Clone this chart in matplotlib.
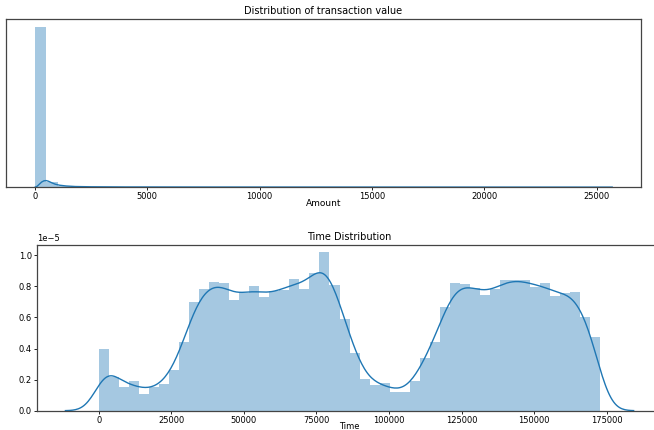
import math
import numpy as np
import matplotlib.pyplot as plt

# --- Amount (top panel) ---
amount_max = 25691
amount_hist = [1.83e-3, 5.5e-5, 1.4e-5, 5e-6, 2.5e-6, 1.5e-6, 1e-6, 8e-7]
# kde line
amount_kde_x = [0, 100, 200, 300, 400, 500, 600, 750, 900, 1100, 1400, 1800, 2500, 4000, 8000, 25691]
amount_kde_y = [0, 1.2e-5, 3.6e-5, 6.0e-5, 7.4e-5, 7.7e-5, 7.0e-5, 5.2e-5, 3.6e-5, 2.4e-5, 1.5e-5, 9e-6, 6e-6, 4e-6, 3e-6, 2e-6]

# --- Time (bottom panel), density in units of 1e-5 ---
time_max = 172792
time_hist = [0.395, 0.22, 0.15, 0.19, 0.11, 0.15, 0.17, 0.265, 0.44, 0.70,
             0.785, 0.825, 0.82, 0.715, 0.76, 0.80, 0.73, 0.77, 0.775, 0.845,
             0.78, 0.885, 1.02, 0.81, 0.59, 0.37, 0.205, 0.165, 0.18, 0.118,
             0.118, 0.19, 0.34, 0.44, 0.665, 0.82, 0.815, 0.79, 0.745, 0.78,
             0.84, 0.84, 0.84, 0.795, 0.82, 0.74, 0.76, 0.765, 0.605, 0.475]
time_bw = 3850

blue = '#1f77b4'

fig = plt.figure(figsize=(6.54, 4.30), dpi=100)

# top: transaction value
ax1 = fig.add_axes([0.0092, 0.5644, 0.971, 0.3907])
edges1 = np.linspace(0, amount_max, 51)
w1 = edges1[1] - edges1[0]
h1 = np.zeros(50)
h1[:len(amount_hist)] = amount_hist
ax1.bar(edges1[:-1], h1, width=w1, align='edge', color=blue, alpha=0.4, linewidth=0)
ax1.plot(amount_kde_x, amount_kde_y, color=blue, lw=1)
ax1.set_xlim(-0.05 * amount_max, 1.05 * amount_max)
ax1.set_yticks([])
ax1.set_xticks([0, 5000, 10000, 15000, 20000, 25000])
ax1.tick_params(labelsize=6, length=2.2, width=0.6, pad=1.5)
ax1.set_title('Distribution of transaction value', fontsize=7, pad=4)
ax1.set_xlabel('Amount', fontsize=6.5)
ax1.xaxis.set_label_coords(0.5, -0.068)

# bottom: time
ax2 = fig.add_axes([0.0566, 0.0449, 0.9557, 0.3842])
edges2 = np.linspace(0, time_max, 51)
w2 = edges2[1] - edges2[0]
ax2.bar(edges2[:-1], np.array(time_hist) * 1e-5, width=w2, align='edge',
        color=blue, alpha=0.4, linewidth=0)

# kde of the binned values (each bin spread evenly, gaussian kernel)
xs = np.linspace(-3 * time_bw, time_max + 3 * time_bw, 400)
erf = np.vectorize(math.erf)
dens = np.zeros_like(xs)
for a, b, h in zip(edges2[:-1], edges2[1:], time_hist):
    dens += h * 0.5 * (erf((xs - a) / (time_bw * math.sqrt(2))) - erf((xs - b) / (time_bw * math.sqrt(2))))
ax2.plot(xs, dens * 1e-5, color=blue, lw=1)
ax2.set_xlim(xs[0] - 0.05 * (xs[-1] - xs[0]), xs[-1] + 0.05 * (xs[-1] - xs[0]))
ax2.set_ylim(0, 1.063e-5)
ax2.set_xticks([0, 25000, 50000, 75000, 100000, 125000, 150000, 175000])
ax2.set_yticks([0, 0.2e-5, 0.4e-5, 0.6e-5, 0.8e-5, 1.0e-5])
ax2.tick_params(labelsize=6, length=2.2, width=0.6, pad=1.5)
ax2.yaxis.get_offset_text().set_fontsize(6)
ax2.set_title('Time Distribution', fontsize=7, pad=4)
ax2.set_xlabel('Time', fontsize=6)
ax2.xaxis.set_label_coords(0.5, -0.066)

for ax in (ax1, ax2):
    for s in ax.spines.values():
        s.set_color('#444444')
        s.set_linewidth(0.9)

fig.savefig('out.png', dpi=100)
